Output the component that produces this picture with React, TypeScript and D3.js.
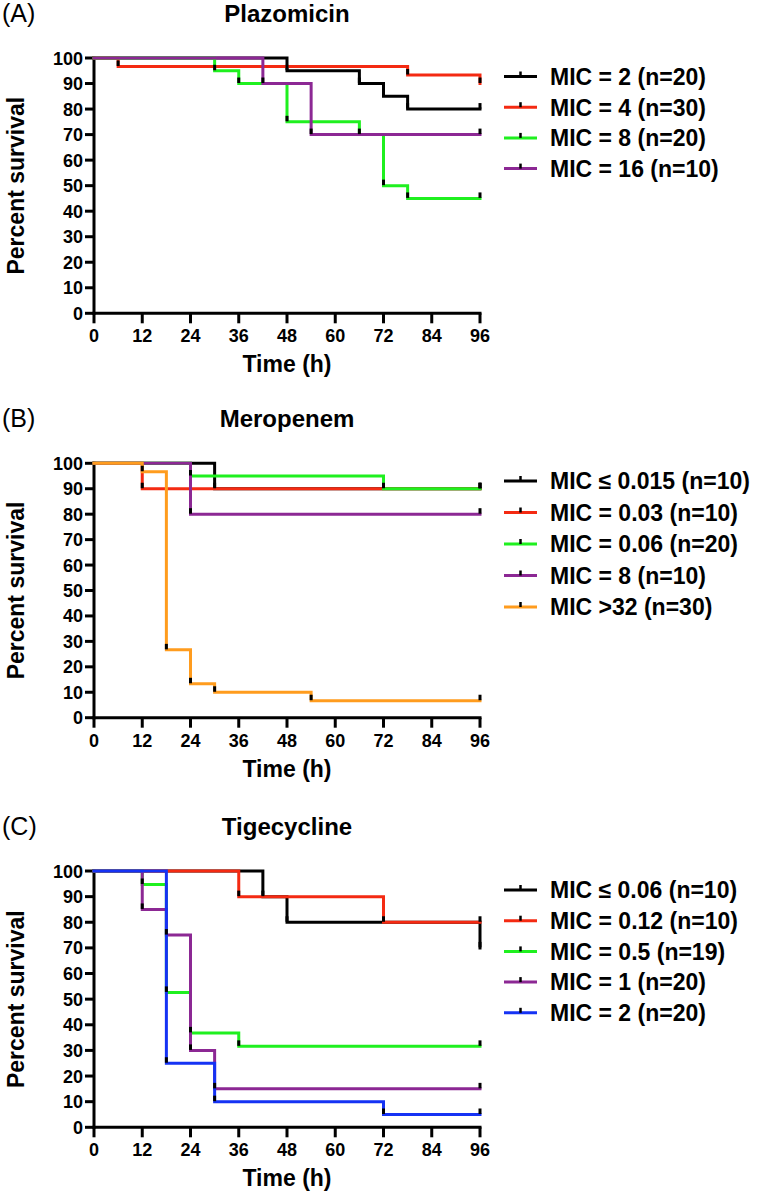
import React from "react";
import * as d3 from "d3";

// ---------- data ----------
const timeTicks = [0, 12, 24, 36, 48, 60, 72, 84, 96];
const survivalTicks = [0, 10, 20, 30, 40, 50, 60, 70, 80, 90, 100];

const plazoTitle = "Plazomicin";
const plazoNames = ["MIC = 2 (n=20)", "MIC = 4 (n=30)", "MIC = 8 (n=20)", "MIC = 16 (n=10)"];
const plazoMic2: [number, number][] = [[0, 100], [48, 95], [66, 90], [72, 85], [78, 80], [96, 80]];
const plazoMic4: [number, number][] = [[0, 100], [6, 96.67], [78, 93.33], [96, 90]];
const plazoMic8: [number, number][] = [[0, 100], [30, 95], [36, 90], [48, 75], [66, 70], [72, 50], [78, 45], [96, 45]];
const plazoMic16: [number, number][] = [[0, 100], [42, 90], [54, 70], [96, 70]];

const meroTitle = "Meropenem";
const meroNames = ["MIC \u2264 0.015 (n=10)", "MIC = 0.03 (n=10)", "MIC = 0.06 (n=20)", "MIC = 8 (n=10)", "MIC >32 (n=30)"];
const meroMic0015: [number, number][] = [[0, 100], [30, 90], [96, 90]];
const meroMic003: [number, number][] = [[0, 100], [12, 90], [96, 90]];
const meroMic006: [number, number][] = [[0, 100], [24, 95], [72, 90], [96, 90]];
const meroMic8: [number, number][] = [[0, 100], [24, 80], [96, 80]];
const meroMic32: [number, number][] = [[0, 100], [12, 96.67], [18, 26.67], [24, 13.33], [30, 10], [54, 6.67], [96, 6.67]];

const tigeTitle = "Tigecycline";
const tigeNames = ["MIC \u2264 0.06 (n=10)", "MIC = 0.12 (n=10)", "MIC = 0.5 (n=19)", "MIC = 1 (n=20)", "MIC = 2 (n=20)"];
const tigeMic006: [number, number][] = [[0, 100], [42, 90], [48, 80], [96, 70]];
const tigeMic012: [number, number][] = [[0, 100], [36, 90], [72, 80], [96, 80]];
const tigeMic05: [number, number][] = [[0, 100], [12, 94.74], [18, 52.63], [24, 36.84], [36, 31.58], [96, 31.58]];
const tigeMic1: [number, number][] = [[0, 100], [12, 85], [18, 75], [24, 30], [30, 15], [96, 15]];
const tigeMic2: [number, number][] = [[0, 100], [18, 25], [30, 10], [72, 5], [96, 5]];

// ---------- styles ----------
const BLACK = "#000000";
const RED = "#f42a12";
const GREEN = "#1ff01f";
const PURPLE = "#8c2894";
const ORANGE = "#ff9c1e";
const BLUE = "#1532f4";
const FONT = "'Liberation Sans', Arial, Helvetica, sans-serif";

type Series = { name: string; color: string; points: [number, number][] };

type PanelProps = {
  letter: string;
  title: string;
  series: Series[];
  top: number;
  bottom: number;
  legendTop: number;
  legendStep: number;
};

const X0 = 94;
const X1 = 480;

function Panel({ letter, title, series, top, bottom, legendTop, legendStep }: PanelProps) {
  const x = d3.scaleLinear().domain([0, 96]).range([X0, X1]);
  const y = d3.scaleLinear().domain([0, 100]).range([bottom, top]);
  const line = d3
    .line<[number, number]>()
    .x((d) => x(d[0]))
    .y((d) => y(d[1]))
    .curve(d3.curveStepAfter);
  const cx = (X0 + X1) / 2;
  const cy = (top + bottom) / 2;
  return (
    <g>
      <text x={2} y={top - 36} fontFamily={FONT} fontSize={25} fill="#000">
        {letter}
      </text>
      <text x={cx} y={top - 36} fontFamily={FONT} fontSize={24} fontWeight="bold" textAnchor="middle" fill="#000">
        {title}
      </text>

      {/* axes */}
      <g stroke="#000" strokeWidth={3} fill="none">
        <line x1={X0} x2={X0} y1={top - 1.5} y2={bottom + 1.5} />
        <line x1={X0 - 1.5} x2={X1 + 1.5} y1={bottom} y2={bottom} />
        {survivalTicks.map((t) => (
          <line key={"yt" + t} x1={X0 - 9} x2={X0} y1={y(t)} y2={y(t)} />
        ))}
        {timeTicks.map((t) => (
          <line key={"xt" + t} x1={x(t)} x2={x(t)} y1={bottom} y2={bottom + 10} />
        ))}
      </g>
      <g fontFamily={FONT} fontSize={18} fontWeight="bold" fill="#000">
        {survivalTicks.map((t) => (
          <text key={"yl" + t} x={X0 - 11} y={y(t) + 6.5} textAnchor="end">
            {t}
          </text>
        ))}
        {timeTicks.map((t) => (
          <text key={"xl" + t} x={x(t)} y={bottom + 29} textAnchor="middle">
            {t}
          </text>
        ))}
      </g>
      <text x={cx} y={bottom + 59} fontFamily={FONT} fontSize={23} fontWeight="bold" textAnchor="middle" fill="#000">
        Time (h)
      </text>
      <text
        transform={`translate(24,${cy}) rotate(-90)`}
        fontFamily={FONT}
        fontSize={23}
        fontWeight="bold"
        textAnchor="middle"
        fill="#000"
      >
        Percent survival
      </text>

      {/* series */}
      {series.map((s, i) => (
        <g key={"s" + i}>
          <path d={line(s.points) || ""} fill="none" stroke={s.color} strokeWidth={3} strokeLinejoin="miter" strokeLinecap="square" />
        </g>
      ))}
      {/* censor marks */}
      {series.map((s, i) =>
        s.points.slice(1).map((p, j) => (
          <line
            key={"c" + i + "_" + j}
            x1={x(p[0])}
            x2={x(p[0])}
            y1={y(p[1]) - 6}
            y2={y(p[1]) - 0.5}
            stroke="#000"
            strokeWidth={3}
          />
        ))
      )}

      {/* legend */}
      {series.map((s, i) => {
        const ly = legendTop + i * legendStep;
        return (
          <g key={"l" + i}>
            <line x1={504} x2={537} y1={ly} y2={ly} stroke={s.color} strokeWidth={3} />
            <line x1={520.5} x2={520.5} y1={ly - 5} y2={ly} stroke="#000" strokeWidth={2.5} />
            <text x={550} y={ly + 8.3} fontFamily={FONT} fontSize={23} fontWeight="bold" fill="#000">
              {s.name}
            </text>
          </g>
        );
      })}
    </g>
  );
}

export default function App() {
  const plazo: Series[] = [
    { name: plazoNames[0], color: BLACK, points: plazoMic2 },
    { name: plazoNames[1], color: RED, points: plazoMic4 },
    { name: plazoNames[2], color: GREEN, points: plazoMic8 },
    { name: plazoNames[3], color: PURPLE, points: plazoMic16 },
  ];
  const mero: Series[] = [
    { name: meroNames[0], color: BLACK, points: meroMic0015 },
    { name: meroNames[1], color: RED, points: meroMic003 },
    { name: meroNames[2], color: GREEN, points: meroMic006 },
    { name: meroNames[3], color: PURPLE, points: meroMic8 },
    { name: meroNames[4], color: ORANGE, points: meroMic32 },
  ];
  const tige: Series[] = [
    { name: tigeNames[0], color: BLACK, points: tigeMic006 },
    { name: tigeNames[1], color: RED, points: tigeMic012 },
    { name: tigeNames[2], color: GREEN, points: tigeMic05 },
    { name: tigeNames[3], color: PURPLE, points: tigeMic1 },
    { name: tigeNames[4], color: BLUE, points: tigeMic2 },
  ];
  return (
    <svg
      width={766}
      height={1193}
      viewBox="0 0 766 1193"
      style={{ position: "absolute", left: 0, top: 0, background: "#fff" }}
    >
      <rect x={0} y={0} width={766} height={1193} fill="#fff" />
      <Panel letter="(A)" title={plazoTitle} series={plazo} top={58} bottom={313.3} legendTop={76.5} legendStep={30.7} />
      <Panel letter="(B)" title={meroTitle} series={mero} top={463.3} bottom={717.7} legendTop={481} legendStep={31.5} />
      <Panel letter="(C)" title={tigeTitle} series={tige} top={871} bottom={1127.3} legendTop={890} legendStep={30.7} />
    </svg>
  );
}
